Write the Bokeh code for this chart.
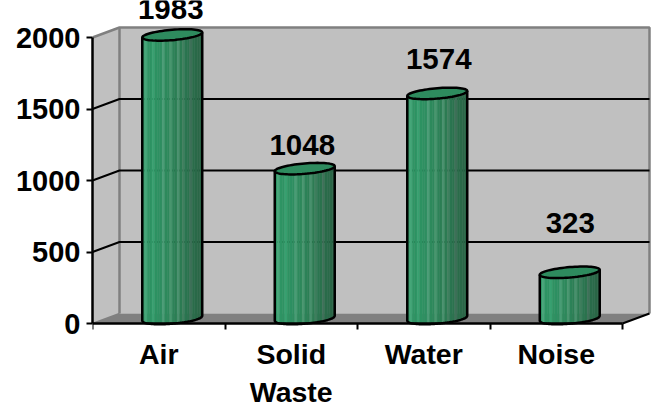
import numpy as np
from bokeh.plotting import figure
from bokeh.models import FixedTicker, Range1d
from bokeh.core.properties import value
from bokeh.embed import file_html
from bokeh.resources import INLINE

categories = ["Air", "Solid\nWaste", "Water", "Noise"]
values = [1983, 1048, 1574, 323]
y_ticks = [0, 500, 1000, 1500, 2000]
label_lift_px = [26, 24, 34, 49]
label_shift_px = [-1.5, -2.5, 1.5, 0.5]

FONT = "Liberation Sans"
PX_X, PX_Y = 132.5, 0.143          # pixels per category / per unit
DX, DY = 27 / PX_X, 10 / PX_Y      # chart depth in data units
A, B, SHEAR = 30 / PX_X, 5.2 / PX_Y, 2.5 / 30 * PX_X / PX_Y

p = figure(width=655, height=404, output_backend="svg", toolbar_location=None,
           x_range=Range1d(0, 563 / PX_X), y_range=Range1d(-81 / PX_Y, 323 / PX_Y),
           min_border_left=92, min_border_right=0, min_border_top=0, min_border_bottom=0,
           margin=(0, 0, 0, 0), outline_line_color=None, background_fill_color="white")
p.grid.visible = False

# walls and floor
top = y_ticks[-1]
n = len(categories)
p.patch([DX, n + DX, n + DX, DX], [DY, DY, top + DY, top + DY], fill_color="#C0C0C0", line_color=None)
p.patch([0, DX, DX, 0], [0, DY, top + DY, top], fill_color="#C0C0C0", line_color=None)
p.patch([0, n, n + DX, DX], [0, 0, DY, DY], fill_color="#808080", line_color=None)
p.line([0, DX, DX, n + DX, n + DX], [top, top + DY, top + DY, top + DY, DY], line_color="#808080", line_width=2.5)
p.line([DX, DX], [DY, top + DY], line_color="#808080", line_width=2.5)
p.line([0, DX], [0, DY], line_color="#808080", line_width=1.5)
p.line([n, n + DX], [0, DY], line_color="black", line_width=2)
for t in y_ticks[1:-1]:
    p.line([0, DX, n + DX], [t, t + DY, t + DY], line_color="black", line_width=2)

# cylinders
ramp = ["#2F9565", "#46A679", "#2F9565", "#2E9363", "#38A070", "#2E9262", "#2E9062", "#2E8E60", "#4A9D76",
        "#2E8A5D", "#2E885C", "#48966F", "#2D8358", "#2C7F55", "#49916E", "#2C7C53", "#3F7F5E", "#2B7650",
        "#2B734E", "#3F7059", "#2A6C4A", "#2A6A49", "#2A6747", "#2A6546"]
th = np.linspace(0, 2 * np.pi, 73)
for i, v in enumerate(values):
    cx = i + 0.5 + DX / 2
    base, head = DY / 2, v + DY / 2
    edges = np.linspace(-1, 1, len(ramp) + 1)
    for k, col in enumerate(ramp):
        u = np.linspace(edges[k], edges[k + 1], 4)
        xs = cx + A * u
        low = base + A * u * SHEAR - B * np.sqrt(np.clip(1 - u ** 2, 0, 1))
        high = head + A * u * SHEAR
        p.patch(np.r_[xs, xs[::-1]], np.r_[low, high[::-1]], fill_color=col, line_color=col, line_width=0.5)
    # outline of the body: sides and lower arc
    u = np.linspace(-1, 1, 61)
    low = base + u * SHEAR * A - B * np.sqrt(1 - u ** 2)
    p.line(np.r_[cx - A, cx + A * u, cx + A], np.r_[head - A * SHEAR, low, head + A * SHEAR],
           line_color="black", line_width=2.5)
    # top cap
    ex, ey = A * np.cos(th), B * np.sin(th)
    p.patch(cx + ex, head + ex * SHEAR + ey, fill_color="#2E8B5E", line_color="black", line_width=2.5)

p.text([i + 0.5 + DX / 2 + s / PX_X for i, s in enumerate(label_shift_px)],
       [v + DY / 2 + l / PX_Y for v, l in zip(values, label_lift_px)],
       text=[str(v) for v in values], text_font=value(FONT), text_font_style="bold", text_font_size="29.5px",
       text_color="black", text_align="center", text_baseline="middle")

# axes
xa = p.xaxis[0]
xa.fixed_location = 0
xa.bounds = (0, n)
xa.ticker = FixedTicker(ticks=[i + 0.5 for i in range(n)], minor_ticks=list(range(n + 1)))
xa.major_label_overrides = {i + 0.5: c for i, c in enumerate(categories)}
xa.major_tick_out = 0; xa.major_tick_in = 0
xa.minor_tick_out = 6; xa.minor_tick_in = 0
xa.minor_tick_line_color = "black"; xa.minor_tick_line_width = 2
xa.axis_line_color = "black"; xa.axis_line_width = 2.5
xa.major_label_text_font = FONT; xa.major_label_text_font_style = "bold"
xa.major_label_text_font_size = "28.5px"; xa.major_label_text_color = "black"
xa.major_label_standoff = 8

ya = p.yaxis[0]
ya.bounds = (0, top)
ya.ticker = FixedTicker(ticks=y_ticks)
ya.major_tick_out = 6; ya.major_tick_in = 0
ya.major_tick_line_color = "black"; ya.major_tick_line_width = 2
ya.minor_tick_line_color = None
ya.axis_line_color = "black"; ya.axis_line_width = 2.5
ya.major_label_text_font = FONT; ya.major_label_text_font_style = "bold"
ya.major_label_text_font_size = "29px"; ya.major_label_text_color = "black"
ya.major_label_standoff = 6

open("out.html", "w").write(file_html(p, INLINE))
